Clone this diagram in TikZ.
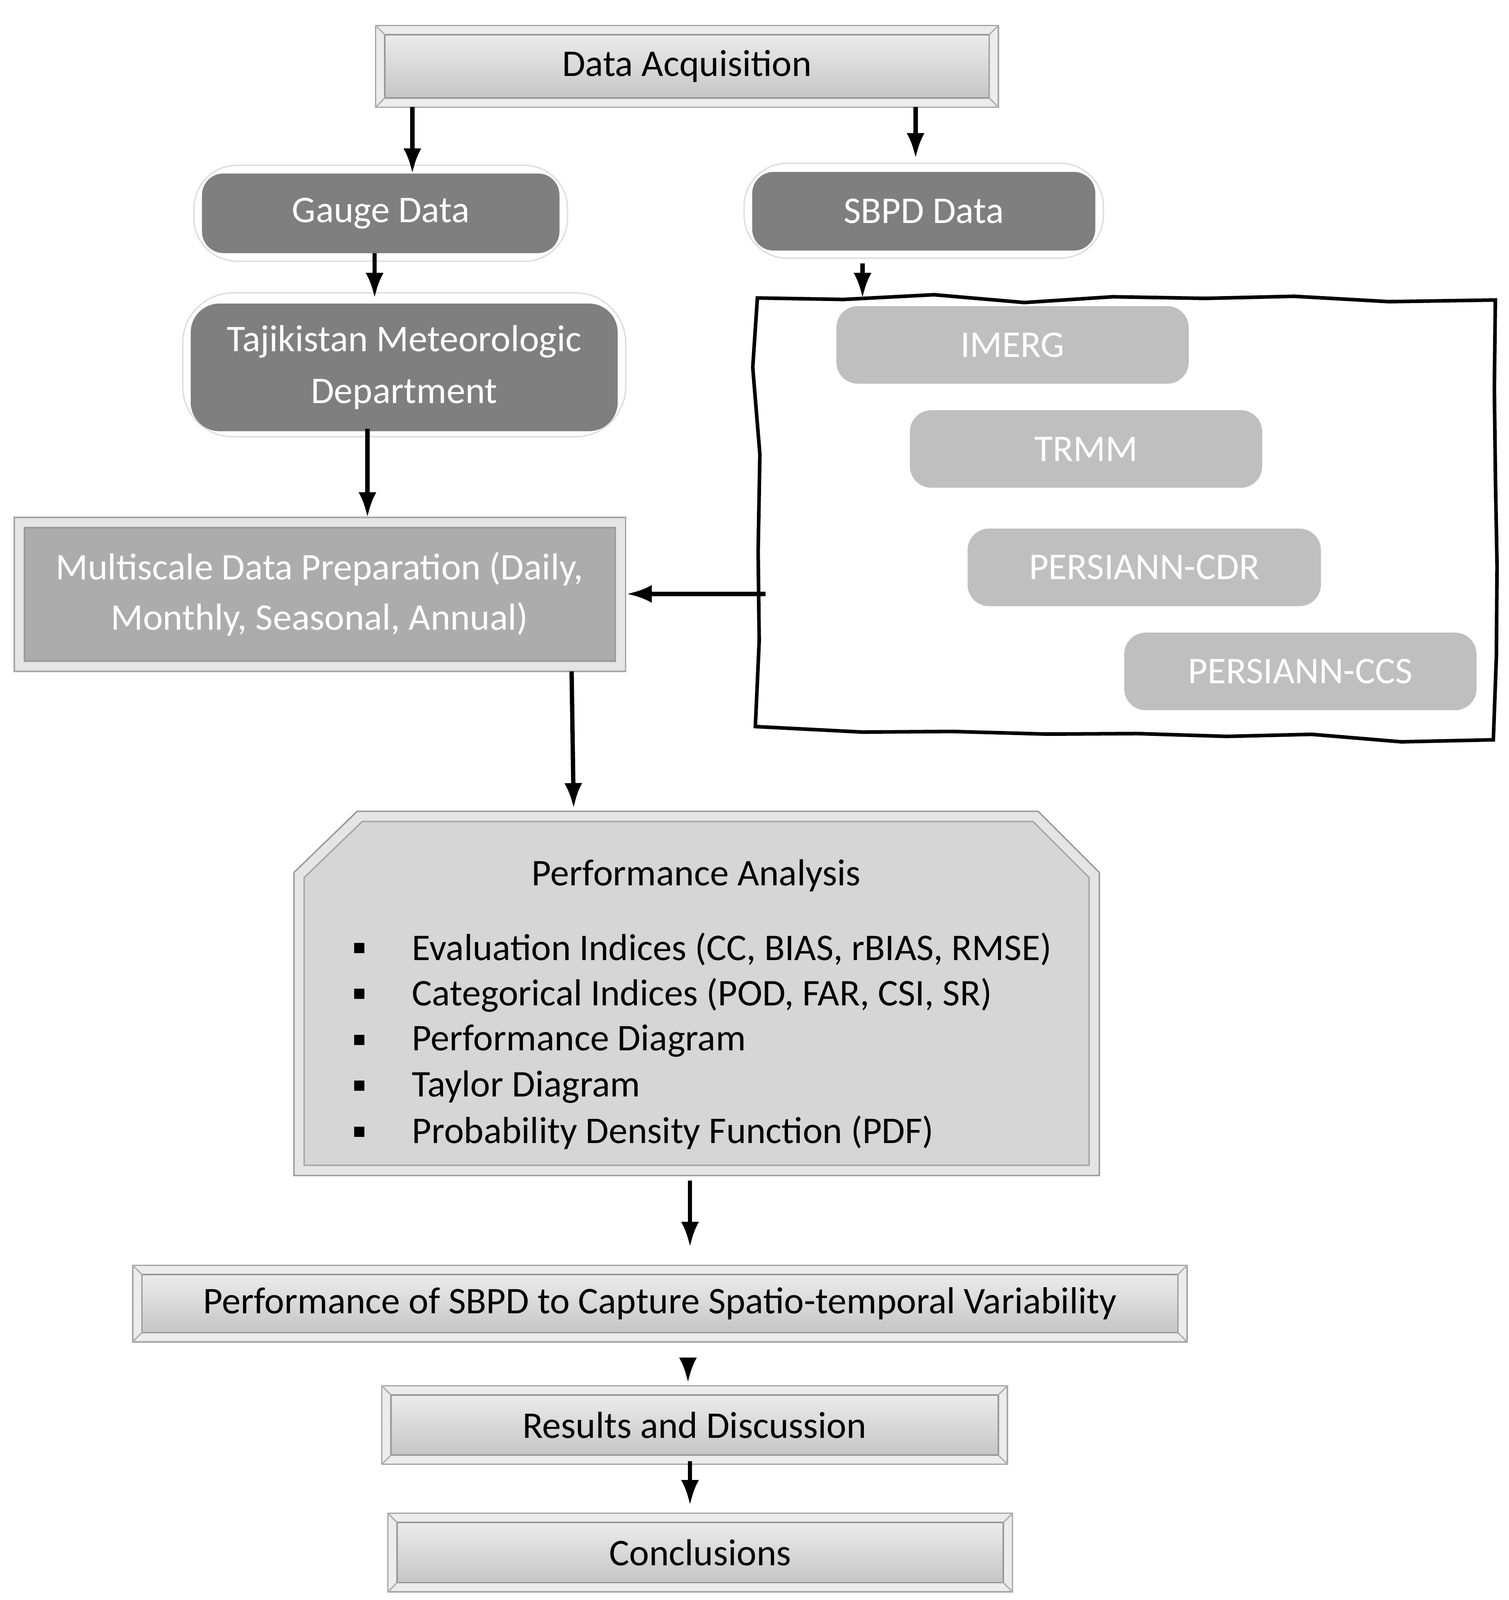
\documentclass[tikz,border=0pt]{standalone}
\usepackage{fontspec}
\setmainfont{Carlito}
\usetikzlibrary{backgrounds,decorations.pathmorphing,arrows.meta}
\definecolor{dk}{HTML}{7F7F7F}
\definecolor{lt}{HTML}{BFBFBF}
\definecolor{bx}{HTML}{D6D6D6}
\begin{document}
\begin{tikzpicture}[x=0.01cm,y=-0.01cm,
  every node/.style={font=\fontsize{10.5pt}{14pt}\selectfont,align=center,inner sep=0},
  arr/.style={-{Latex[length=7pt,width=5pt]},line width=1.2pt},
  ltb/.style={fill=lt,text=white,rounded corners=6pt},
  bev/.style={}]
\useasboundingbox (0,0) rectangle (1478,1568);
\newcommand\mybox[6]{% name, x1,y1,x2,y2, text
  \node[bev] (#1) at ({(#2+#4)/2},{(#3+#5)/2}) {#6};
  \begin{scope}[on background layer]
  \draw[gray!70,fill=gray!15] (#2,#3) rectangle (#4,#5);
  \draw[gray!80,top color=gray!15,bottom color=gray!45] (#2+9,#3+9) rectangle (#4-9,#5-9);
  \draw[gray!60] (#2,#3)--(#2+9,#3+9) (#4,#3)--(#4-9,#3+9) (#2,#5)--(#2+9,#5-9) (#4,#5)--(#4-9,#5-9);
  \end{scope}}
\mybox{da}{368}{25}{978}{105}{Data Acquisition}
\mybox{perf}{130}{1240}{1163}{1315}{Performance of SBPD to Capture Spatio-temporal Variability}
\mybox{res}{374}{1358}{987}{1435}{Results and Discussion}
\mybox{con}{380}{1483}{992}{1560}{Conclusions}
% multiscale
\node (ms) at (313,582) {\color{white}Multiscale Data Preparation (Daily,\\\color{white}Monthly, Seasonal, Annual)};
\begin{scope}[on background layer]
\draw[gray!70,fill=gray!20] (14,507) rectangle (613,658);
\draw[gray!80,fill=gray!65] (24,517) rectangle (603,648);
\end{scope}
% dark boxes with white halo
\begin{scope}[on background layer]
\draw[gray!25,fill=white,rounded corners=12pt] (190,162) rectangle (556,256);
\draw[gray!25,fill=white,rounded corners=12pt] (729,160) rectangle (1081,253);
\draw[gray!25,fill=white,rounded corners=14pt] (179,287) rectangle (613,428);
\end{scope}
\node[fill=dk,text=white,rounded corners=6pt,minimum width=3.5cm,minimum height=0.78cm] (gd) at (373,209) {Gauge Data};
\node[fill=dk,text=white,rounded corners=6pt,minimum width=3.36cm,minimum height=0.77cm] (sd) at (905,207) {SBPD Data};
\node[fill=dk,text=white,rounded corners=8pt,minimum width=4.18cm,minimum height=1.25cm,font=\fontsize{10.5pt}{14.5pt}\selectfont] (tj) at (396,360) {Tajikistan Meteorologic\\Department};
% wavy box
\draw[line width=1pt,decorate,decoration={random steps,segment length=25pt,amplitude=1.2pt}] (742,292) -- (1465,294) -- (1463,725) -- (740,712) -- cycle;
\coordinate (wv) at (750,582);
\coordinate (wt) at (845,292);
\node[ltb,minimum width=3.45cm,minimum height=0.76cm] (im) at (992,338) {IMERG};
\node[ltb,minimum width=3.45cm,minimum height=0.76cm] (tr) at (1064,440) {TRMM};
\node[ltb,minimum width=3.46cm,minimum height=0.76cm] (pc) at (1121,556) {PERSIANN-CDR};
\node[ltb,minimum width=3.45cm,minimum height=0.76cm] (ps) at (1274,658) {PERSIANN-CCS};
% performance analysis
\draw[gray!80,fill=gray!20] (288,1152) -- (288,855) -- (350,795) -- (1017,795) -- (1077,855) -- (1077,1152) -- cycle;
\draw[gray!70,fill=bx] (298,1142) -- (298,860) -- (355,805) -- (1012,805) -- (1067,860) -- (1067,1142) -- cycle;
\node (pa) at (682,858) {Performance Analysis};
\foreach \y/\t in {930/{Evaluation Indices (CC, BIAS, rBIAS, RMSE)},975/{Categorical Indices (POD, FAR, CSI, SR)},1020/{Performance Diagram},1065/{Taylor Diagram},1110/{Probability Density Function (PDF)}}{
  \fill (347,\y-6) rectangle (357,\y+4);
  \node[anchor=west] at (403,\y) {\t};}
\coordinate (pa-top) at (562,792);
\coordinate (pa-bot) at (676,1157);
% arrows
\draw[arr] (404,105) -- (404,170);
\draw[arr] (897,105) -- (897,155);
\draw[arr] (367,248) -- (367,292);
\draw[arr] (845,258) -- (wt);
\draw[arr] (360,420) -- (360,507);
\draw[arr] (wv) -- (614,582);
\draw[arr] (560,658) -- (pa-top);
\draw[arr] (pa-bot) -- (676,1222);
\draw[arr] (674,1335) -- (674,1355);
\draw[arr] (676,1432) -- (676,1475);
\end{tikzpicture}
\end{document}
